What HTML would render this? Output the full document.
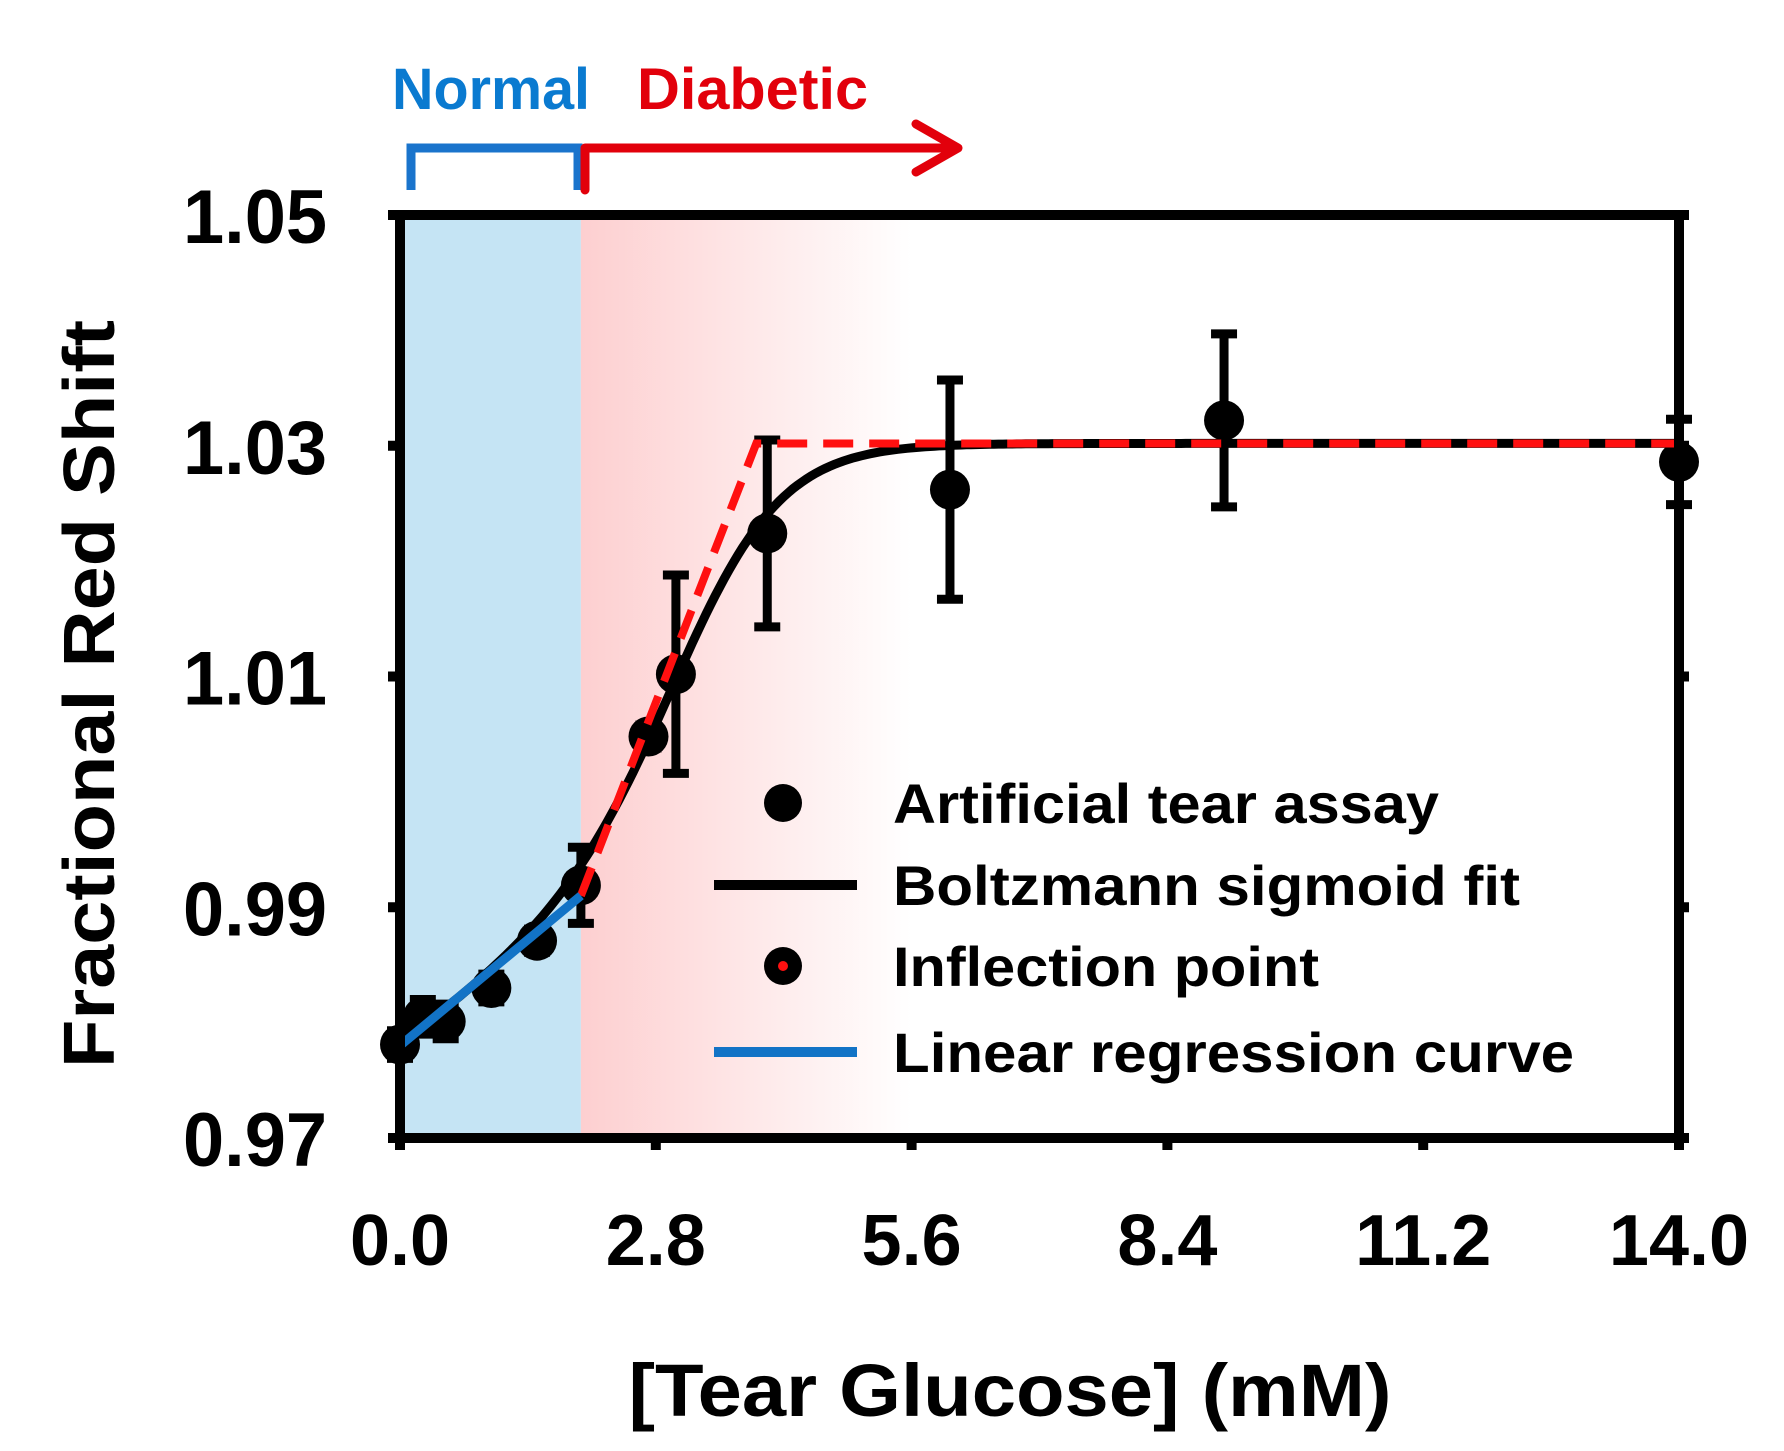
<!DOCTYPE html>
<html><head><meta charset="utf-8"><style>
html,body{margin:0;padding:0;background:#fff;}
svg{display:block;font-family:"Liberation Sans",Arial,sans-serif;font-weight:bold;}
</style></head><body>
<svg id="chart" width="1784" height="1451" viewBox="0 0 1784 1451" xmlns="http://www.w3.org/2000/svg">
<defs>
<linearGradient id="redGrad" x1="0" x2="1" y1="0" y2="0">
<stop offset="0" stop-color="#fdcfd0"/><stop offset="1" stop-color="#ffffff"/>
</linearGradient>
</defs>
<g id="bg"></g>
<g id="marks"></g>
<g id="axes"></g>
<g id="legend"></g>
<text x="392" y="109" font-size="58" fill="#0a7ad0" textLength="198" lengthAdjust="spacingAndGlyphs">Normal</text>
<text x="637" y="109" font-size="58" fill="#e2000b" textLength="231" lengthAdjust="spacingAndGlyphs">Diabetic</text>
<path d="M411 190 V148 H578 V190" fill="none" stroke="#1a74cc" stroke-width="9"/>
<path d="M585 190 V148 H955 M916 124 L958 148 L916 172" fill="none" stroke="#e2000b" stroke-width="9" stroke-linecap="round" stroke-linejoin="round"/>
<text transform="translate(114,694) rotate(-90)" text-anchor="middle" font-size="72" textLength="748" lengthAdjust="spacingAndGlyphs">Fractional Red Shift</text>
<text x="1010" y="1416" text-anchor="middle" font-size="74" textLength="763" lengthAdjust="spacingAndGlyphs">[Tear Glucose] (mM)</text>
</svg>
<script>
const xVals = [0, 0.25, 0.5, 1.0, 1.5, 1.98, 2.72, 3.02, 4.02, 6.02, 9.02, 14.0];
const yVals = [0.9781, 0.9805, 0.9801, 0.9830, 0.9871, 0.9919, 1.0048, 1.0102, 1.0224, 1.0262, 1.0322, 1.0286];
const yErr = [0.0012, 0.0015, 0.0015, 0.0012, 0.0010, 0.0033, 0.0010, 0.0086, 0.0081, 0.0095, 0.0075, 0.0037];
const xTicks = [0, 2.8, 5.6, 8.4, 11.2, 14.0];
const xTickLabels = ["0.0", "2.8", "5.6", "8.4", "11.2", "14.0"];
const yTicks = [0.97, 0.99, 1.01, 1.03, 1.05];
const yTickLabels = ["0.97", "0.99", "1.01", "1.03", "1.05"];
const fitParams = [0.978, 0.0055, 1.0302, 3.2, 0.6]; // A1, baseline slope, A2, x0, dx
const linePts = [[0, 0.978], [1.98, 0.991]];
const inflectPts = [[1.98, 0.991], [3.9, 1.0302], [14, 1.0302]];
const normalRange = [0, 1.98];
const diabeticRange = [1.98, 5.6];

const NS = "http://www.w3.org/2000/svg";
const L = 400, R = 1679, T = 215, B = 1138;
const sx = v => L + (v - 0) / 14 * (R - L);
const sy = v => B - (v - 0.97) / 0.08 * (B - T);
function mk(tag, attrs, parent) {
  const e = document.createElementNS(NS, tag);
  for (const k in attrs) e.setAttribute(k, attrs[k]);
  parent.appendChild(e);
  return e;
}
const bg = document.getElementById('bg'), marks = document.getElementById('marks'), axes = document.getElementById('axes'), leg = document.getElementById('legend');

let r = mk('rect', {x: sx(normalRange[0]) + 4, y: T, width: sx(normalRange[1]) - sx(normalRange[0]) - 4, height: B - T, fill: '#c5e4f4'}, bg);


r = mk('rect', {x: sx(diabeticRange[0]), y: T, width: sx(diabeticRange[1]) - sx(diabeticRange[0]), height: B - T, fill: 'url(#redGrad)'}, bg);



xVals.forEach((x, i) => {
  const g = mk('g', {}, marks);
  
  
  const cx = sx(x), y1 = sy(yVals[i] + yErr[i]), y2 = sy(yVals[i] - yErr[i]);
  mk('line', {x1: cx, x2: cx, y1: y1, y2: y2, stroke: '#000', 'stroke-width': 9}, g);
  mk('line', {x1: cx - 13, x2: cx + 13, y1: y1, y2: y1, stroke: '#000', 'stroke-width': 9}, g);
  mk('line', {x1: cx - 13, x2: cx + 13, y1: y2, y2: y2, stroke: '#000', 'stroke-width': 9}, g);
});
xVals.forEach((x, i) => {
  const c = mk('circle', {cx: sx(x), cy: sy(yVals[i]), r: 20, fill: '#000'}, marks);
  
  
});
let d = '';
for (let k = 0; k <= 280; k++) {
  const x = k * 14 / 280;
  const base = fitParams[0] + fitParams[1] * x;
  const y = fitParams[2] + (base - fitParams[2]) / (1 + Math.exp((x - fitParams[3]) / fitParams[4]));
  d += (k ? 'L' : 'M') + sx(x).toFixed(1) + ' ' + sy(y).toFixed(1);
}
let p = mk('path', {d: d, fill: 'none', stroke: '#000', 'stroke-width': 9}, marks);


p = mk('path', {d: inflectPts.map((q, i) => (i ? 'L' : 'M') + sx(q[0]) + ' ' + sy(q[1])).join(''), fill: 'none', stroke: '#ff1010', 'stroke-width': 8, 'stroke-dasharray': '30 16'}, marks);


p = mk('path', {d: linePts.map((q, i) => (i ? 'L' : 'M') + sx(q[0]) + ' ' + sy(q[1])).join(''), fill: 'none', stroke: '#1273c6', 'stroke-width': 9}, marks);



let f = mk('rect', {x: L, y: T, width: R - L, height: B - T, fill: 'none', stroke: '#000', 'stroke-width': 10}, axes);


yTicks.forEach((v, i) => {
  const y = sy(v);
  const t = mk('line', {x1: L - 12, x2: L, y1: y, y2: y, stroke: '#000', 'stroke-width': 10}, axes);
  
  
  const t2 = mk('line', {x1: R, x2: R + 10, y1: y, y2: y, stroke: '#000', 'stroke-width': 10}, axes);
  
  
  const tx = mk('text', {x: 327, y: y + 28, 'text-anchor': 'end', 'font-size': 76, textLength: 144, lengthAdjust: 'spacingAndGlyphs'}, axes);
  tx.textContent = yTickLabels[i];
  
  
});
xTicks.forEach((v, i) => {
  const x = sx(v);
  const t = mk('line', {x1: x, x2: x, y1: B, y2: B + 12, stroke: '#000', 'stroke-width': 10}, axes);
  
  
  const tx = mk('text', {x: x, y: 1265, 'text-anchor': 'middle', 'font-size': 72}, axes);
  tx.textContent = xTickLabels[i];
  
  
});

const legLabels = ["Artificial tear assay", "Boltzmann sigmoid fit", "Inflection point", "Linear regression curve"];
const legY = [803, 885, 966, 1052];
const legW = [546, 627, 426, 681];
legLabels.forEach((lab, i) => {
  const g = mk('g', {}, leg);
  
  
  const y = legY[i];
  if (i === 0) mk('circle', {cx: 783, cy: y, r: 19, fill: '#000'}, g);
  if (i === 1) mk('line', {x1: 714, x2: 857, y1: y, y2: y, stroke: '#000', 'stroke-width': 10}, g);
  if (i === 2) { mk('circle', {cx: 783, cy: y, r: 19, fill: '#000'}, g); mk('circle', {cx: 783, cy: y, r: 5, fill: '#ff1010'}, g); }
  if (i === 3) mk('line', {x1: 714, x2: 857, y1: y, y2: y, stroke: '#1273c6', 'stroke-width': 10}, g);
  const tx = mk('text', {x: 893, y: y + 20, 'font-size': 56, textLength: legW[i], lengthAdjust: 'spacingAndGlyphs'}, g);
  tx.textContent = lab;
});
</script>
</body></html>
